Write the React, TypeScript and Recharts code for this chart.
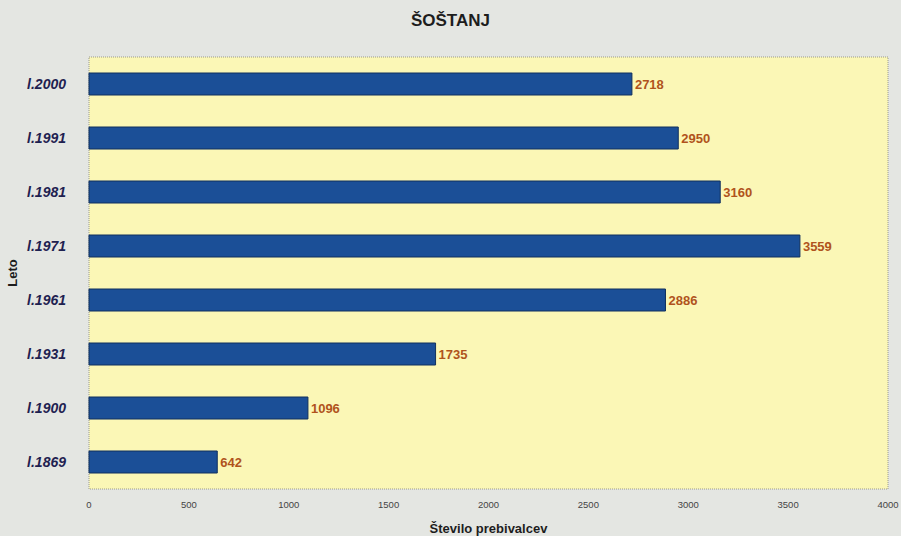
import { BarChart, Bar, XAxis, YAxis, ReferenceArea, LabelList, Label } from 'recharts';

// Šoštanj population by census year
const years = ['l.2000', 'l.1991', 'l.1981', 'l.1971', 'l.1961', 'l.1931', 'l.1900', 'l.1869'];
const population = [2718, 2950, 3160, 3559, 2886, 1735, 1096, 642];
const xTicks = [0, 500, 1000, 1500, 2000, 2500, 3000, 3500, 4000];

const data = years.map((year, i) => ({ year, value: population[i] }));

const FONT = '"Liberation Sans", Arial, sans-serif';

export default function App() {
  return (
    <div
      style={{
        position: 'fixed',
        left: 0,
        top: 0,
        width: 901,
        height: 536,
        background: '#e4e6e2',
        fontFamily: FONT,
      }}
    >
      <div
        style={{
          position: 'absolute',
          top: 11,
          width: 901,
          textAlign: 'center',
          fontSize: 17,
          fontWeight: 'bold',
          color: '#1d1d1d',
        }}
      >
        ŠOŠTANJ
      </div>
      <BarChart
        width={901}
        height={536}
        data={data}
        layout="vertical"
        margin={{ top: 57, right: 13, left: 0, bottom: 0 }}
        barCategoryGap={16}
      >
        <ReferenceArea
          x1={0}
          x2={4000}
          fill="#fbf7b6"
          fillOpacity={1}
          stroke="#9a9a8a"
          strokeDasharray="1 1"
          strokeWidth={1}
        />
        <XAxis
          type="number"
          domain={[0, 4000]}
          ticks={xTicks}
          axisLine={false}
          tickLine={false}
          height={47}
          tickMargin={6}
          tick={{ fontSize: 9.5, fill: '#444', fontFamily: '"Liberation Sans Narrow", "Liberation Sans", sans-serif' }}
        >
          <Label
            value="Število prebivalcev"
            position="insideBottom"
            offset={3}
            style={{ fontSize: 13, fontWeight: 'bold', fill: '#1d1d1d', fontFamily: FONT }}
          />
        </XAxis>
        <YAxis
          type="category"
          dataKey="year"
          width={89}
          axisLine={false}
          tickLine={false}
          tickMargin={17}
          tick={{ fontSize: 14, fontStyle: 'italic', fontWeight: 'bold', fill: '#1e2150', fontFamily: FONT }}
        >
          <Label
            value="Leto"
            angle={-90}
            position="insideLeft"
            offset={12}
            style={{ fontSize: 13, fontWeight: 'bold', fill: '#1d1d1d', fontFamily: FONT, textAnchor: 'middle' }}
          />
        </YAxis>
        <Bar
          dataKey="value"
          fill="#1b4f97"
          stroke="#10305e"
          strokeWidth={1}
          barSize={22}
          isAnimationActive={false}
        >
          <LabelList
            dataKey="value"
            position="right"
            offset={3}
            style={{ fontSize: 13, fontWeight: 'bold', fill: '#b0531c', fontFamily: FONT }}
          />
        </Bar>
      </BarChart>
    </div>
  );
}
